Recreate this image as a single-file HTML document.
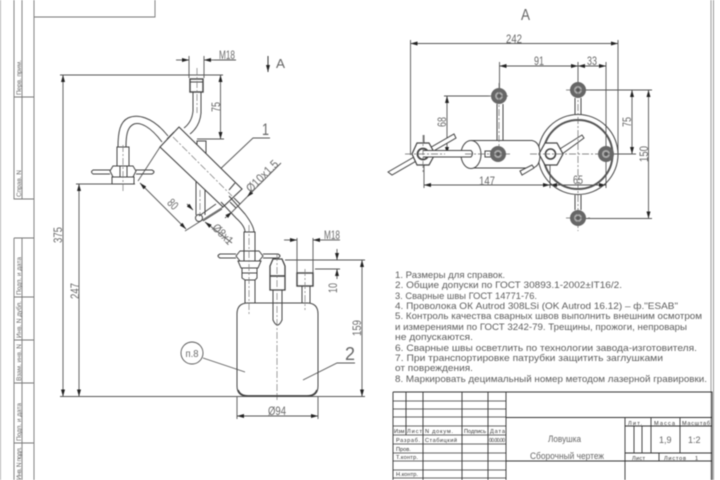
<!DOCTYPE html>
<html><head><meta charset="utf-8"><style>
html,body{margin:0;padding:0;background:#fff;width:720px;height:480px;overflow:hidden}
svg{display:block;filter:blur(.5px)}
text{font-family:"Liberation Sans",sans-serif;fill:#666;stroke:none}
.n{font-size:9.5px;fill:#5c5c5c}
.d{font-size:12px;fill:#6a6a6a;text-anchor:middle}
.t{font-size:5.6px;fill:#333}
</style></head><body>
<svg width="720" height="480" viewBox="0 0 720 480" fill="none" stroke="#444" stroke-width=".9">
<defs>
<marker id="a" viewBox="0 0 7 4" refX="7" refY="2" markerWidth="7" markerHeight="4" markerUnits="userSpaceOnUse" orient="auto-start-reverse"><path d="M0 0L7 2L0 4Z" fill="#222" stroke="none"/></marker>
</defs>

<!-- sheet frame -->
<g stroke="#777">
<path d="M.5 0V480" stroke="#aaa"/>
<path d="M14 0V199H34M22 0V199M14 97H34M34 0V480"/>
<path d="M14 238H34M14 238V480M22 238V480M14 297H34M14 340H34M14 383H34M14 443H34"/>
<path d="M34 17H155V0"/>
</g>
<path d="M711 0V480M713.5 0V480" stroke="#999" stroke-width="1"/>
<text transform="translate(21 95) rotate(-90)" style="font-size:6.5px" textLength="35">Перв. прим.</text>
<text transform="translate(21 197) rotate(-90)" style="font-size:6.5px" textLength="27">Справ. N</text>
<text transform="translate(21 295) rotate(-90)" style="font-size:6.5px" textLength="38">Подп. и дата</text>
<text transform="translate(21 338) rotate(-90)" style="font-size:6.5px" textLength="37">Инв. N дубл.</text>
<text transform="translate(21 381) rotate(-90)" style="font-size:6.5px" textLength="37">Взам. инв. N</text>
<text transform="translate(21 441) rotate(-90)" style="font-size:6.5px" textLength="38">Подп. и дата</text>
<text transform="translate(21 480) rotate(-90)" style="font-size:6.5px" textLength="33">Инв. N подл.</text>

<!-- dimension lines left view -->
<g stroke="#555">
<path d="M60 75H223M76 184H135M60 396.5H365M197 139H224"/>
<path d="M189 56V78M204 56V78"/>
<path d="M63 75V396.5" marker-start="url(#a)" marker-end="url(#a)"/>
<path d="M79 184V396.5" marker-start="url(#a)" marker-end="url(#a)"/>
<path d="M220.5 75V139" marker-start="url(#a)" marker-end="url(#a)"/>
<path d="M176 60H189" marker-end="url(#a)"/><path d="M214 60H204" marker-end="url(#a)"/><path d="M214 60H236"/>
<path d="M284 240H297" marker-end="url(#a)"/><path d="M325 240H313" marker-end="url(#a)"/><path d="M325 240H340"/>
<path d="M297 238V282M313 238V273"/>
<path d="M285 260H365M315 269H340"/>
<path d="M337 249V260" marker-end="url(#a)"/><path d="M337 279V269" marker-end="url(#a)"/>
<path d="M362 260V396.5" marker-start="url(#a)" marker-end="url(#a)"/>
<path d="M237 397V419M318 397V419"/>
<path d="M237 416H318" marker-start="url(#a)" marker-end="url(#a)"/>
<path d="M160 147L138 181M223 207L185 231"/>
<path d="M140 183L186 229" marker-start="url(#a)" marker-end="url(#a)"/>
<path d="M215 174L253 138H270M203 358L245 372M303 380L337 363H355"/>
<path d="M225 218L232 212" marker-end="url(#a)"/><path d="M281 163L247 197" marker-end="url(#a)"/><path d="M232 212L247 197"/>
<path d="M187 204L193 210" marker-end="url(#a)"/><path d="M232 243L205 222" marker-end="url(#a)"/>
</g>
<text class="d" x="227" y="59" textLength="16" lengthAdjust="spacingAndGlyphs">M18</text>
<text class="d" x="332" y="239" textLength="16" lengthAdjust="spacingAndGlyphs">M18</text>
<text class="d" transform="translate(220 107) rotate(-90)" textLength="10" lengthAdjust="spacingAndGlyphs">75</text>
<text class="d" transform="translate(62 235) rotate(-90)" textLength="16" lengthAdjust="spacingAndGlyphs">375</text>
<text class="d" transform="translate(79 291) rotate(-90)" textLength="16" lengthAdjust="spacingAndGlyphs">247</text>
<text class="d" transform="translate(337 288) rotate(-90)" textLength="10" lengthAdjust="spacingAndGlyphs">10</text>
<text class="d" transform="translate(361 328) rotate(-90)" textLength="16" lengthAdjust="spacingAndGlyphs">159</text>
<text class="d" x="277" y="415" textLength="18" lengthAdjust="spacingAndGlyphs">Ø94</text>
<text class="d" transform="translate(170 207) rotate(45)" textLength="10" lengthAdjust="spacingAndGlyphs">80</text>
<text class="d" transform="translate(265 179) rotate(-45)" textLength="40" lengthAdjust="spacingAndGlyphs">Ø10x1.5</text>
<text class="d" transform="translate(220 237) rotate(45)" textLength="24" lengthAdjust="spacingAndGlyphs">Ø8x1</text>
<text x="262" y="135" style="font-size:17px" textLength="7" lengthAdjust="spacingAndGlyphs">1</text>
<text x="345" y="360" style="font-size:18px" textLength="10" lengthAdjust="spacingAndGlyphs">2</text>
<circle cx="192" cy="353" r="11" stroke="#555"/>
<text class="d" x="192" y="357" textLength="13" lengthAdjust="spacingAndGlyphs" style="font-size:10px">п.8</text>

<!-- left apparatus -->
<g stroke="#444" stroke-width="1">
<rect x="190" y="79" width="13" height="13" stroke-width="1.4"/>
<path d="M190 82H203M193 92V111Q192 122 184 128M201 92V113Q200 126 190 134"/>
<path d="M168 136C152 116 137 114 128 118 120 122 118 132 118 147M162 142C150 126 140 122 134 124 127 127 126 136 126 147"/>
<path d="M197 141H206V170H197ZM196 215V170M205 215V170"/>
<path d="M179 127L242 189L223 207L160 147Z" stroke-width="1.1" fill="#fff"/>
<path d="M174 132L167 139M235 183L229 190"/>
<rect x="117" y="147" width="12" height="19"/>
<path d="M110 171L113 166H133L136 171L133 177H113ZM120 166V177M127 166V177"/>
<rect x="112" y="177" width="22" height="7"/>
<path d="M110 170H93Q90 172 93 174H110M136 170H152Q156 172 152 174H136"/>
<path d="M216 204L199 216M222 209L203 221" />
<circle cx="199" cy="218" r="3.5"/>
<path d="M229 196L245 214Q254 226 254 232M221 202L236 218Q245 226 245 232"/>
<path d="M234 198L240 204M230 202L236 208"/>
<rect x="244" y="232" width="11" height="19"/>
<path d="M236 256L240 251H259L263 256L259 261H240ZM244 251V261M255 251V261"/>
<path d="M238 261H261L258 268H241Z"/>
<path d="M242 268H257V278L255 280H245L242 278ZM242 273H257"/>
<path d="M245 280V303M255 280V303"/>
<path d="M236 254H220Q216 256 220 258H236M263 254H278Q282 256 278 258H263"/>
<path d="M270 266L273 259H282L285 266V290H270Z" stroke-width="1.3"/>
<path d="M270 276H285" stroke-width="1.6"/>
<path d="M273 290V320Q277.5 330 282 320V290"/>
<rect x="297" y="273" width="16" height="13" stroke-width="1.4"/>
<path d="M302 286V303M310 286V303"/>
<path d="M237 314Q237 303 248 303H307Q318 303 318 314V386Q318 396 308 396H247Q237 396 237 386Z" stroke-width="1"/>
<path d="M238 390Q240 396 248 396H307Q315 396 317 390" stroke-width="1.8"/>
</g>
<g stroke="#777" stroke-dasharray="7 2 2 2" stroke-width=".7">
<path d="M197 68V113M123 145V192M173 137L232 196M249 225V315M277 254V400M305 269V310M200 190V215"/>
</g>

<!-- view A -->
<path d="M268 56V72" stroke="#222" marker-end="url(#a)"/>
<text x="276" y="68" style="font-size:13px" textLength="9" lengthAdjust="spacingAndGlyphs">A</text>
<text x="521" y="20" style="font-size:16px" textLength="9" lengthAdjust="spacingAndGlyphs">A</text>
<g stroke="#555">
<path d="M410.5 40V155M618 40V155M499.5 62V90M578 62V84M606 62V188M424 135V188M550 160V188"/>
<path d="M410.5 43.5H618" marker-start="url(#a)" marker-end="url(#a)"/>
<path d="M499.5 66H578" marker-start="url(#a)" marker-end="url(#a)"/>
<path d="M578 66H606" marker-start="url(#a)" marker-end="url(#a)"/>
<path d="M424 185H550" marker-start="url(#a)" marker-end="url(#a)"/>
<path d="M550 185H606" marker-start="url(#a)" marker-end="url(#a)"/>
<path d="M444 96H490"/>
<path d="M447 96V154" marker-start="url(#a)" marker-end="url(#a)"/>
<path d="M585 90H652M612 154H636M585 218.5H652"/>
<path d="M632 90V154" marker-start="url(#a)" marker-end="url(#a)"/>
<path d="M648.5 90V218.5" marker-start="url(#a)" marker-end="url(#a)"/>
</g>
<text class="d" x="514" y="43" textLength="16" lengthAdjust="spacingAndGlyphs">242</text>
<text class="d" x="539" y="65" textLength="10" lengthAdjust="spacingAndGlyphs">91</text>
<text class="d" x="592" y="65" textLength="10" lengthAdjust="spacingAndGlyphs">33</text>
<text class="d" x="487" y="185" textLength="16" lengthAdjust="spacingAndGlyphs">147</text>
<text class="d" x="578" y="184" textLength="10" lengthAdjust="spacingAndGlyphs">65</text>
<text class="d" transform="translate(446 122) rotate(-90)" textLength="10" lengthAdjust="spacingAndGlyphs">68</text>
<text class="d" transform="translate(631 122) rotate(-90)" textLength="10" lengthAdjust="spacingAndGlyphs">75</text>
<text class="d" transform="translate(648 154) rotate(-90)" textLength="16" lengthAdjust="spacingAndGlyphs">150</text>

<g stroke="#444" stroke-width="1">
<circle cx="578" cy="154.5" r="40"/>
<circle cx="578" cy="154.5" r="34.5" stroke-width="2" stroke="#555"/>
<path d="M575 98V115M581 98V115M575 195V210M581 195V210"/>
<path d="M497 104V141M503 104V141"/>
<path d="M471 140.5H532Q540 142 540 154.5Q540 167 532 168H471" fill="#fff"/>
<ellipse cx="471" cy="154.5" rx="10" ry="14" fill="#fff"/>
<path d="M388 172L392 175L456 138L454 134Z" fill="#fff"/>
<path d="M520 171L522 175L534 168L532 165Z" fill="#fff"/>
<path d="M412 154L417 143H429L435 154L429 165H417Z" fill="#fff" stroke-width="1.2"/>
<circle cx="423" cy="154" r="5.500" fill="#fff" stroke-width="1.8"/>
<path d="M423 150.500H471Q474 153.500 471 157H423" fill="#fff"/>
<rect x="485" y="151" width="6" height="6"/>
<path d="M555 152L582 135L584 138L558 157Z" fill="#fff"/>
<path d="M539 154L545 143H557L563 154L557 165H545Z" fill="#fff" stroke-width="1.2"/>
<circle cx="550.500" cy="154" r="5" fill="#fff" stroke-width="1.6"/>
</g>
<g stroke="none">
<g fill="#666">
<circle cx="499" cy="96" r="8"/><circle cx="578" cy="90" r="8"/><circle cx="578" cy="218" r="8"/><circle cx="606" cy="154" r="8"/><circle cx="498" cy="154" r="8"/>
</g>
<g fill="#aaa">
<circle cx="499" cy="96" r="4"/><circle cx="578" cy="90" r="4"/><circle cx="578" cy="218" r="4"/><circle cx="606" cy="154" r="4"/><circle cx="498" cy="154" r="4"/>
</g>
<g fill="#555">
<circle cx="499" cy="96" r="2"/><circle cx="578" cy="90" r="2"/><circle cx="578" cy="218" r="2"/><circle cx="606" cy="154" r="2"/><circle cx="498" cy="154" r="2"/>
</g>
</g>
<g stroke="#666" stroke-width=".7" stroke-dasharray="7 2 2 2">
<path d="M578 78V231M405 154H445M465 154H510M530 154H618M423 135V172M499 83V148M488 96H510M566 90H590M566 218H590M595 154H617"/>
</g>

<!-- notes -->
<text class="n" x="395" y="278" textLength="110" lengthAdjust="spacingAndGlyphs">1. Размеры для справок.</text>
<text class="n" x="395" y="288" textLength="227" lengthAdjust="spacingAndGlyphs">2. Общие допуски по ГОСТ 30893.1-2002±IT16/2.</text>
<text class="n" x="395" y="299" textLength="142" lengthAdjust="spacingAndGlyphs">3. Сварные швы ГОСТ 14771-76.</text>
<text class="n" x="395" y="309" textLength="283" lengthAdjust="spacingAndGlyphs">4. Проволока ОК Autrod 308LSi (OK Autrod 16.12) – ф."ESAB"</text>
<text class="n" x="395" y="319" textLength="307" lengthAdjust="spacingAndGlyphs">5. Контроль качества сварных швов выполнить внешним осмотром</text>
<text class="n" x="395" y="330" textLength="292" lengthAdjust="spacingAndGlyphs">и измерениями по ГОСТ 3242-79. Трещины, прожоги, непровары</text>
<text class="n" x="395" y="340" textLength="78" lengthAdjust="spacingAndGlyphs">не допускаются.</text>
<text class="n" x="395" y="351" textLength="302" lengthAdjust="spacingAndGlyphs">6. Сварные швы осветлить по технологии завода-изготовителя.</text>
<text class="n" x="395" y="361" textLength="268" lengthAdjust="spacingAndGlyphs">7. При транспортировке патрубки защитить  заглушками</text>
<text class="n" x="395" y="371" textLength="78" lengthAdjust="spacingAndGlyphs">от повреждения.</text>
<text class="n" x="395" y="382" textLength="312" lengthAdjust="spacingAndGlyphs">8. Маркировать децимальный номер методом лазерной гравировки.</text>

<!-- title block -->
<g stroke="#333" stroke-width=".9">
<path d="M393 392H712V480M393 392V480M406 392V435M423 392V480M462 392V480M488 392V480M506 392V480"/>
<path d="M393 401H506M393 409H506M393 417H506M393 426H506M393 435H506M393 444H506M393 453H506M393 461H506M393 470H506M393 478H506" stroke-width=".8"/>
<path d="M506 417.500H712M625 417.500V480M625 426H712M625 453H712M506 461H712"/>
<path d="M634 426V453M642 426V453M651 417.500V453M680 417.500V453M659 453V461"/>
</g>
<text class="t" x="394" y="433">Изм</text><text class="t" x="407" y="433" textLength="15">Лист</text>
<text class="t" x="425" y="433" textLength="28">N докум.</text><text class="t" x="464" y="433" textLength="22">Подпись</text><text class="t" x="490" y="433" textLength="15">Дата</text>
<text class="t" x="396" y="442" textLength="24">Разраб.</text><text class="t" x="425" y="442" textLength="32">Стабицкий</text>
<text class="t" x="489" y="442" textLength="16" style="font-size:5px">00.00.00</text>
<text class="t" x="396" y="451">Пров.</text><text class="t" x="396" y="459" textLength="22">Т.контр.</text><text class="t" x="396" y="476" textLength="22">Н.контр.</text>
<text x="548" y="442" style="font-size:9px" textLength="33" lengthAdjust="spacingAndGlyphs">Ловушка</text>
<text x="530" y="459" style="font-size:9px" textLength="74" lengthAdjust="spacingAndGlyphs">Сборочный чертеж</text>
<text class="t" x="628" y="425" textLength="14">Лит.</text><text class="t" x="654" y="425" textLength="21">Масса</text><text class="t" x="682" y="425" textLength="28">Масштаб</text>
<text x="659" y="443" style="font-size:9px">1,9</text><text x="688" y="443" style="font-size:9px">1:2</text>
<text class="t" x="632" y="460" textLength="13">Лист</text><text class="t" x="664" y="460" textLength="22">Листов</text><text class="t" x="695" y="460">1</text>
</g>
</svg>
</body></html>
